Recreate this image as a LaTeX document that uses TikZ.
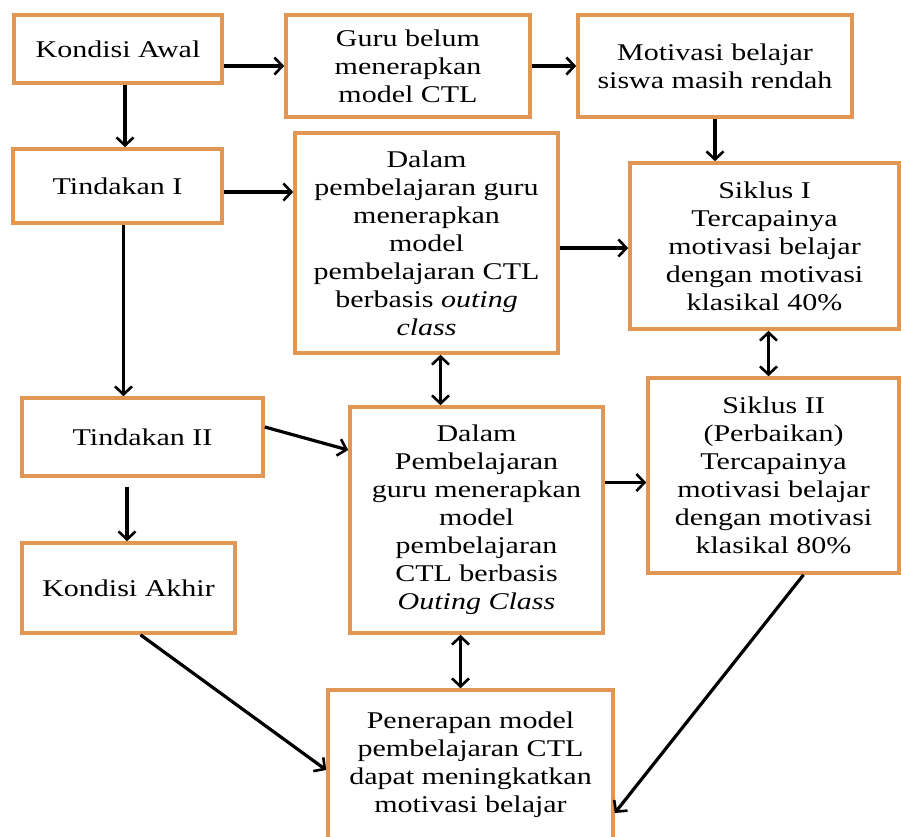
\documentclass[tikz,border=0pt]{standalone}
\usepackage{fontspec}
\setmainfont[FakeStretch=1.25]{Liberation Serif}
\usetikzlibrary{arrows.meta}
\definecolor{garisoranye}{RGB}{226,150,84}
\begin{document}
\begin{tikzpicture}[x=1pt, y=-1pt,
  kotak/.style={draw=garisoranye, line width=3.6pt, fill=white, align=center,
    inner sep=0pt, font=\fontsize{24}{28}\selectfont},
  panah/.style={-{Straight Barb[length=8pt,width=17pt,line width=2.6pt]}, line width=3.2pt},
  duapanah/.style={{Straight Barb[length=8pt,width=17pt,line width=2.6pt]}-{Straight Barb[length=8pt,width=17pt,line width=2.6pt]}, line width=3.2pt}]
  \useasboundingbox (0,0) rectangle (901,836);

  % Baris atas
  \node[kotak, minimum width=208, minimum height=68] (awal) at (118,49) {Kondisi Awal};
  \node[kotak, minimum width=244, minimum height=102] (belum) at (408,66) {Guru belum\\menerapkan\\model CTL};
  \node[kotak, minimum width=274, minimum height=102] (rendah) at (715,66) {Motivasi belajar\\siswa masih rendah};

  % Tindakan I
  \node[kotak, minimum width=209, minimum height=74] (tind1) at (117.5,186) {Tindakan I};
  \node[kotak, minimum width=263, minimum height=220] (dalam1) at (426.5,243)
    {Dalam\\pembelajaran guru\\menerapkan\\model\\pembelajaran CTL\\berbasis \textit{outing}\\\textit{class}};
  \node[kotak, minimum width=269, minimum height=166] (siklus1) at (764.5,246)
    {Siklus I\\Tercapainya\\motivasi belajar\\dengan motivasi\\klasikal 40\%};

  % Tindakan II
  \node[kotak, minimum width=241, minimum height=78] (tind2) at (142.5,437) {Tindakan II};
  \node[kotak, minimum width=253, minimum height=226] (dalam2) at (476.5,520)
    {Dalam\\Pembelajaran\\guru menerapkan\\model\\pembelajaran\\CTL berbasis\\\textit{Outing Class}};
  \node[kotak, minimum width=251, minimum height=195] (siklus2) at (773.5,475.5)
    {Siklus II\\(Perbaikan)\\Tercapainya\\motivasi belajar\\dengan motivasi\\klasikal 80\%};

  % Kondisi akhir dan hasil
  \node[kotak, minimum width=285, minimum height=150] (terap) at (470.5,765)
    {Penerapan model\\pembelajaran CTL\\dapat meningkatkan\\motivasi belajar};
  \node[kotak, minimum width=213, minimum height=90] (akhir) at (128.5,588) {Kondisi Akhir};

  % Panah
  \draw[panah] (awal.east |- belum.west) -- (belum.west);
  \draw[panah] (belum) -- (rendah);
  \draw[panah] (rendah.south) -- (rendah.south |- siklus1.north);
  \draw[panah] ([xshift=7]awal.south) -- ([xshift=7]awal.south |- tind1.north);
  \draw[panah] ([yshift=-6]tind1.east) -- ([yshift=-6]tind1.east -| dalam1.west);
  \draw[panah] ([xshift=6]tind1.south) -- ([xshift=6]tind1.south |- tind2.north);
  \draw[panah] ([yshift=-5]dalam1.east) -- ([yshift=-5]dalam1.east -| siklus1.west);
  \draw[duapanah] ([xshift=4]siklus1.south) -- ([xshift=4]siklus1.south |- siklus2.north);
  \draw[duapanah] ([xshift=14]dalam1.south) -- ([xshift=14]dalam1.south |- dalam2.north);
  \draw[panah] ([yshift=10]tind2.east) -- ([yshift=70]dalam2.west);
  \draw[panah, shorten <=9pt] ([xshift=-1.5]akhir.north |- tind2.south) -- ([xshift=-1.5]akhir.north);
  \draw[panah] ([yshift=-7]siklus2.west -| dalam2.east) -- ([yshift=-7]siklus2.west);
  \draw[duapanah] ([xshift=-10]terap.north |- dalam2.south) -- ([xshift=-10]terap.north);
  \draw[panah] ([xshift=12]akhir.south) -- ([yshift=-5]terap.west);
  \draw[panah] ([xshift=30]siklus2.south) -- ([yshift=-48]terap.east);
\end{tikzpicture}
\end{document}
